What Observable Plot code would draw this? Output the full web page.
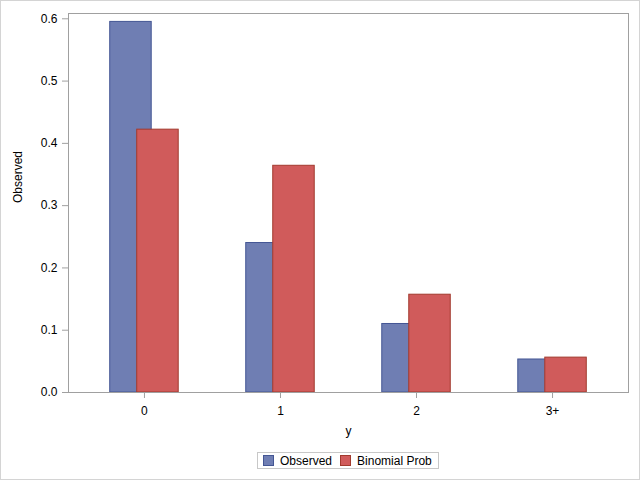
<!DOCTYPE html>
<html>
<head>
<meta charset="utf-8">
<script src="https://cdn.jsdelivr.net/npm/d3@7"></script>
<script src="https://cdn.jsdelivr.net/npm/@observablehq/plot@0.6"></script>
<style>
  html, body { margin: 0; padding: 0; background: #fff; }
  #wrap { position: relative; width: 640px; height: 480px; overflow: hidden; background: #fff;
          font-family: "Liberation Sans", Arial, sans-serif; }
  #border { position: absolute; left: 0; top: 0; width: 640px; height: 480px; box-sizing: border-box;
            border: 1px solid #d4d4d4; pointer-events: none; }
  #legend { position: absolute; left: 257px; top: 452px; width: 182px; height: 17px; box-sizing: border-box;
            border: 1px solid #c8c8c8; display: flex; align-items: center; font-size: 12px; color: #000; }
  .sw { width: 9px; height: 9px; border: 1px solid; display: inline-block; margin-right: 6px; }
  .item { display: flex; align-items: center; }
</style>
</head>
<body>
<div id="wrap">
  <div id="chart"></div>
  <div id="legend"></div>
  <div id="border"></div>
</div>
<script>
const categories = ["0", "1", "2", "3+"];
const observed = [0.595, 0.240, 0.110, 0.053];
const binomialProb = [0.422, 0.364, 0.157, 0.056];
const yTicks = [0, 0.1, 0.2, 0.3, 0.4, 0.5, 0.6];
const seriesNames = ["Observed", "Binomial Prob"];
const fills = ["#6F7EB3", "#D05B5B"];
const strokes = ["#445694", "#A23A2E"];

const obsData = categories.map((c, i) => ({y: c, v: observed[i]}));
const binData = categories.map((c, i) => ({y: c, v: binomialProb[i]}));

const chart = Plot.plot({
  width: 640,
  height: 445,
  marginLeft: 68,
  marginRight: 12,
  marginTop: 13,
  marginBottom: 53,
  style: {fontFamily: "'Liberation Sans', Arial, sans-serif", fontSize: "12px", color: "#000", background: "#fff"},
  x: {type: "band", domain: categories, paddingInner: 0.695, paddingOuter: 0.406, round: false, axis: null},
  y: {domain: [0, 0.6085], axis: null},
  marks: [
    Plot.barY(obsData, {x: "y", y: "v", fill: fills[0], stroke: strokes[0], strokeWidth: 1, dx: -13.5}),
    Plot.barY(binData, {x: "y", y: "v", fill: fills[1], stroke: strokes[1], strokeWidth: 1, dx: 13.5}),
    Plot.frame({stroke: "#a0a0a0"}),
    Plot.axisY(yTicks, {tickSize: 6, tickPadding: 5, tickFormat: d => d.toFixed(1), stroke: "#a0a0a0", fill: "#000", label: null, fontSize: 12}),
    Plot.axisX(categories, {tickSize: 6, tickPadding: 7.5, stroke: "#a0a0a0", fill: "#000", label: null, fontSize: 12}),
    Plot.text(["y"], {frameAnchor: "bottom", dy: 42, fontSize: 12, fill: "#000"}),
    Plot.text(["Observed"], {frameAnchor: "left", dx: -50, rotate: -90, fontSize: 12, fill: "#000"})
  ]
});
document.getElementById("chart").appendChild(chart);

const legend = document.getElementById("legend");
seriesNames.forEach((name, i) => {
  const item = document.createElement("div");
  item.className = "item";
  item.style.marginLeft = i === 0 ? "5px" : "8px";
  const sw = document.createElement("span");
  sw.className = "sw";
  sw.style.background = fills[i];
  sw.style.borderColor = strokes[i];
  item.appendChild(sw);
  const t = document.createElement("span");
  t.textContent = name;
  item.appendChild(t);
  legend.appendChild(item);
});
</script>
</body>
</html>
